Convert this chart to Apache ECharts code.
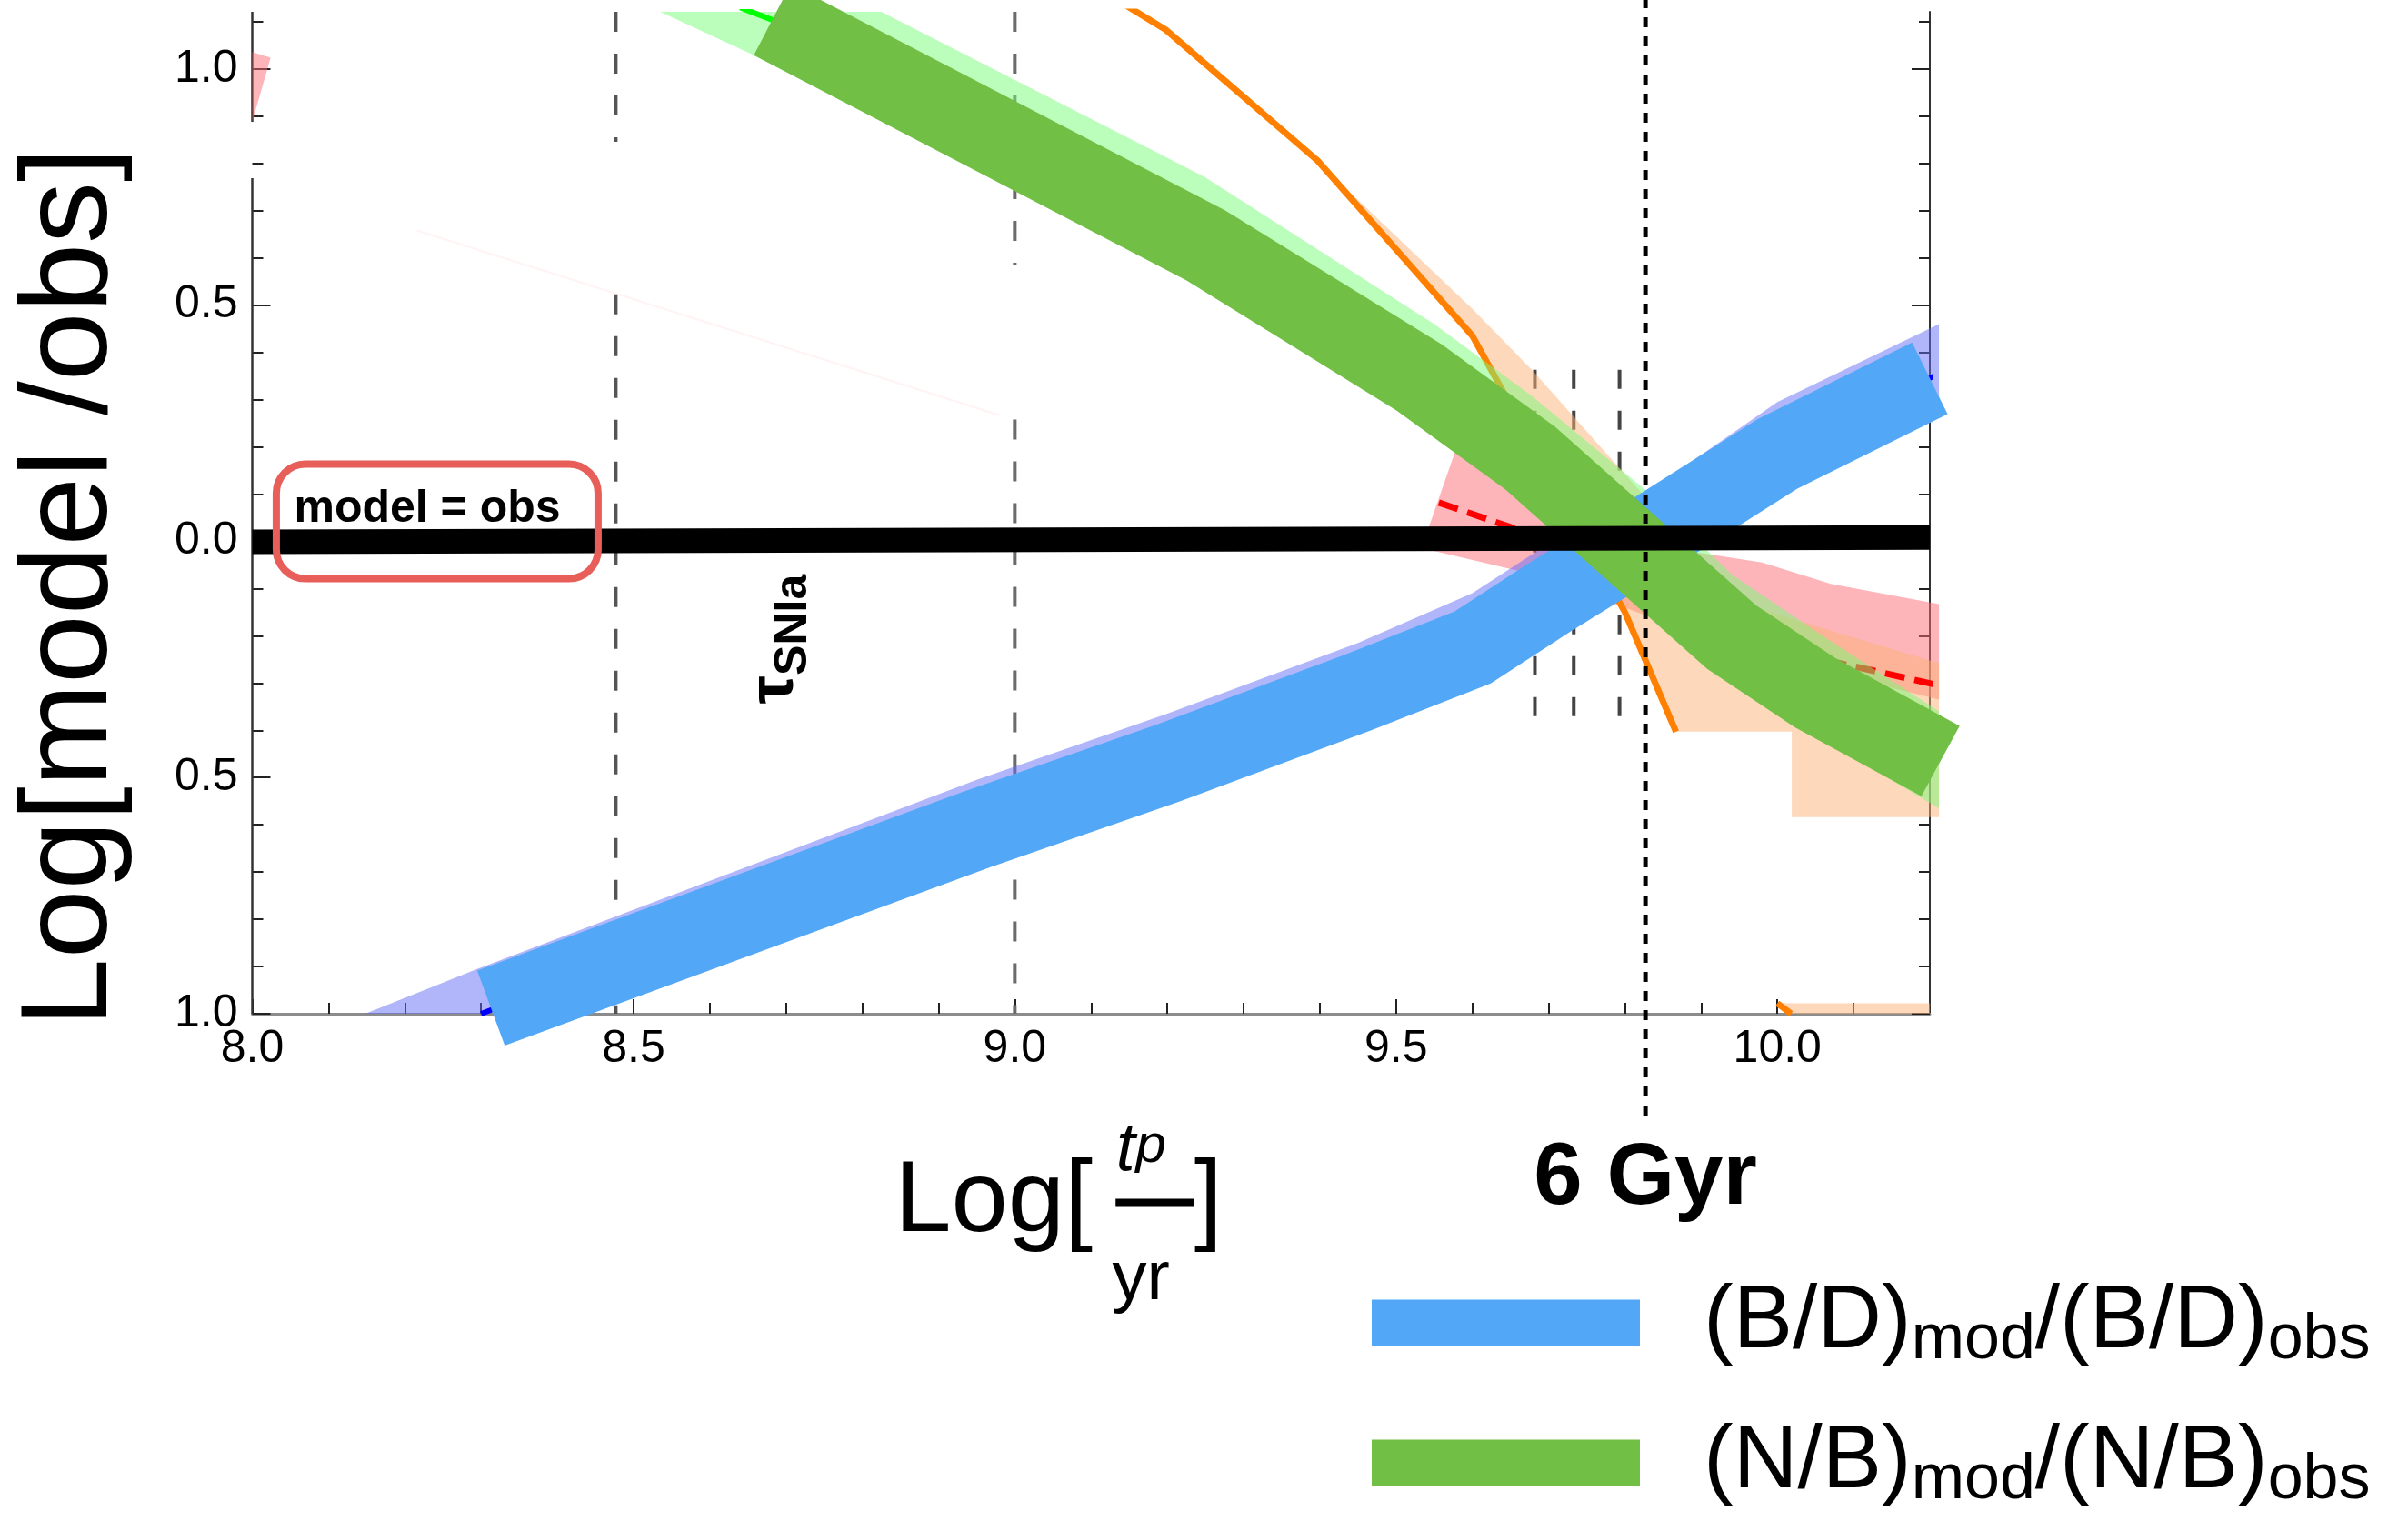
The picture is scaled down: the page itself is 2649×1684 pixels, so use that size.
<!DOCTYPE html>
<html><head><meta charset="utf-8">
<script src="https://cdn.jsdelivr.net/npm/echarts@6/dist/echarts.min.js"></script>
<style>html,body{margin:0;padding:0;background:#fff}#c{width:2649px;height:1684px}</style>
</head><body><div id="c"></div>
<script>
// ---------- axes / ticks ----------
const X_MIN = 8.0, X_MAX = 10.2, Y_MIN = -1.0, Y_MAX = 1.121;
const xMajorTicks = [8.0, 8.5, 9.0, 9.5, 10.0];
const xTickLabels = ['8.0', '8.5', '9.0', '9.5', '10.0'];
const xMinorTicks = [8.1, 8.2, 8.3, 8.4, 8.6, 8.7, 8.8, 8.9, 9.1, 9.2, 9.3, 9.4, 9.6, 9.7, 9.8, 9.9, 10.1];
const yMajorTicks = [-1.0, -0.5, 0.0, 0.5, 1.0];
const yTickLabels = ['1.0', '0.5', '0.0', '0.5', '1.0'];
const yMinorTicks = [-0.9, -0.8, -0.7, -0.6, -0.4, -0.3, -0.2, -0.1, 0.1, 0.2, 0.3, 0.4, 0.6, 0.7, 0.8, 0.9, 1.1];
// left frame line is drawn in two pieces (the reference has a gap in it)
const leftFrameSegs = [[1.121, 0.888], [0.769, -1.0]];

// ---------- thick model bands ----------
const blueX = [8.313, 8.95, 9.2, 9.45, 9.6, 9.7, 9.8, 10.0, 10.2];
const blueY = [-0.988, -0.61, -0.47, -0.32, -0.225, -0.12, -0.02, 0.185, 0.345];
const greenX = [8.682, 9.25, 9.53, 9.676, 9.94, 10.05, 10.214];
const greenY = [1.104, 0.627, 0.347, 0.176, -0.203, -0.321, -0.465];

// ---------- thin model lines ----------
const thinBlueX = [8.30, 8.95, 9.2, 9.45, 9.6, 9.7, 9.8, 10.0, 10.212];
const thinBlueY = [-1.0, -0.61, -0.47, -0.32, -0.225, -0.12, -0.02, 0.185, 0.355];
const thinGreenX = [8.64, 8.682, 9.25, 9.53, 9.676, 9.94, 10.05, 10.2];
const thinGreenY = [1.13, 1.104, 0.627, 0.347, 0.176, -0.203, -0.321, -0.455];
const orangeX = [9.12, 9.198, 9.397, 9.60, 9.80, 9.867];
const orangeY = [1.16, 1.083, 0.806, 0.435, -0.15, -0.403];
const orange2X = [10.0, 10.018];
const orange2Y = [-0.978, -1.0];
const redX = [9.556, 9.65, 9.75, 9.85, 9.99, 10.212];
const redY = [0.082, 0.03, -0.04, -0.12, -0.225, -0.305];
const faintX = [8.216, 8.98];
const faintY = [0.658, 0.267];

// ---------- shaded ranges (upper edge, lower edge) ----------
const pinkUpX = [9.543, 9.578, 9.65, 9.80, 9.88, 9.98, 10.07, 10.212];
const pinkUpY = [0.03, 0.193, 0.11, 0.02, -0.02, -0.045, -0.09, -0.133];
const pinkLoX = [9.543, 9.548, 9.68, 9.85, 10.0, 10.212];
const pinkLoY = [0.03, -0.02, -0.07, -0.17, -0.25, -0.335];
const pinkWedgeUpX = [8.0, 8.024];
const pinkWedgeUpY = [1.036, 1.024];
const pinkWedgeLoX = [8.0, 8.024];
const pinkWedgeLoY = [0.888, 1.024];
const peachUpX = [9.39, 9.60, 9.68, 9.79, 9.89, 9.97, 10.212];
const peachUpY = [0.815, 0.492, 0.36, 0.16, -0.02, -0.14, -0.258];
const peachLoX = [9.39, 9.397, 9.60, 9.80, 9.867, 10.019, 10.019, 10.212];
const peachLoY = [0.815, 0.806, 0.435, -0.15, -0.403, -0.403, -0.584, -0.584];
const peach2UpX = [10.0, 10.2];
const peach2UpY = [-0.978, -0.978];
const peach2LoX = [10.018, 10.2];
const peach2LoY = [-1.0, -1.0];
const lavUpX = [8.148, 8.295, 8.95, 9.2, 9.45, 9.6, 9.7, 9.826, 10.0, 10.212];
const lavUpY = [-1.0, -0.905, -0.505, -0.365, -0.215, -0.11, -0.005, 0.10, 0.295, 0.46];
const lavLoX = [8.148, 8.30, 8.95, 9.2, 9.45, 9.6, 9.8, 10.0, 10.212];
const lavLoY = [-1.0, -1.0, -0.64, -0.50, -0.35, -0.26, -0.06, 0.14, 0.28];
const lgUpX = [8.535, 8.825, 9.183, 9.25, 9.55, 9.676, 9.826, 9.94, 10.05, 10.212];
const lgUpY = [1.121, 1.121, 0.826, 0.77, 0.46, 0.31, 0.11, -0.07, -0.19, -0.36];
const lgLoX = [8.535, 8.658, 9.25, 9.53, 9.676, 9.94, 10.05, 10.212];
const lgLoY = [1.121, 1.029, 0.55, 0.27, 0.09, -0.30, -0.41, -0.565];

// ---------- reference lines ----------
const zeroX = [8.0, 10.2];
const zeroY = [-0.001, 0.008];
const sixGyrX = 9.827;
const sixGyrY = [1.15, -1.235];
const dashLong1X = 8.477;
const dashLong1Segs = [[1.121, 0.846], [0.523, -1.0]];
const dashLong2X = 9.0;
const dashLong2Segs = [[1.121, 0.585], [0.258, -1.0]];
const dashShortX = [9.682, 9.733, 9.793];
const dashShortY = [0.363, -0.383];

// ---------- annotations ----------
const modelObsBoxAnchor = [8.2425, 0.0423];
const modelObsTextAnchor = [8.2295, 0.0683];
const tauAnchor = [8.686, -0.207];
const gyrAnchor = [9.827, -1.352];
const legendNames = ['(B/D)mod/(B/D)obs', '(N/B)mod/(N/B)obs'];
const legendRich = ['{sp| }{a|(B/D)}{s|mod}{a|/(B/D)}{s|obs}', '{sp| }{a|(N/B)}{s|mod}{a|/(N/B)}{s|obs}'];

// ---------- helpers ----------
function pickLabel(vals, labs, v) {
  for (let i = 0; i < vals.length; i++) if (Math.abs(vals[i] - v) < 1e-9) return labs[i];
  return '';
}
function pairs(xs, ys) { return xs.map((x, i) => [x, ys[i]]); }
function lineS(name, xs, ys, style, z, clip) {
  return { type: 'line', name: name, data: pairs(xs, ys), symbol: 'none', showSymbol: false,
    lineStyle: style, itemStyle: { color: style.color }, z: z, clip: clip, silent: true,
    emphasis: { disabled: true }, animation: false };
}
function bandS(name, upX, upY, loX, loY, color, z) {
  return { type: 'custom', name: name, z: z, clip: false, silent: true, animation: false,
    data: [[upX[0], upY[0]]],
    renderItem: function (params, api) {
      const pts = [];
      for (let i = 0; i < upX.length; i++) pts.push(api.coord([upX[i], upY[i]]));
      for (let i = loX.length - 1; i >= 0; i--) pts.push(api.coord([loX[i], loY[i]]));
      return { type: 'polygon', shape: { points: pts }, style: { fill: color } };
    } };
}
function vSeg(name, x, y0, y1, style, z, clip) {
  return lineS(name, [x, x], [y0, y1], style, z, clip);
}

const dashStyleLong = { color: '#555', width: 3.5, type: [22, 24] };
const dashStyleShort = { color: '#444', width: 4, type: [21, 24] };

const series = [];
leftFrameSegs.forEach((s, i) => series.push(vSeg('frame_' + i, X_MIN, s[0], s[1], { color: '#333', width: 2.5 }, 0, false)));
dashLong1Segs.forEach((s, i) => series.push(vSeg('v85_' + i, dashLong1X, s[0], s[1], dashStyleLong, 1, true)));
dashLong2Segs.forEach((s, i) => series.push(vSeg('v90_' + i, dashLong2X, s[0], s[1], { color: '#6a6a6a', width: 4, type: [22, 24] }, 1, true)));
dashShortX.forEach((x, i) => series.push(vSeg('vs_' + i, x, dashShortY[0], dashShortY[1], dashStyleShort, 1, true)));
series.push(lineS('faint', faintX, faintY, { color: 'rgba(255,120,120,0.09)', width: 2 }, 1, true));
series.push(bandS('pinkWedge', pinkWedgeUpX, pinkWedgeUpY, pinkWedgeLoX, pinkWedgeLoY, 'rgba(251,107,117,0.5)', 2));
series.push(bandS('pink', pinkUpX, pinkUpY, pinkLoX, pinkLoY, 'rgba(251,107,117,0.5)', 2));
series.push(bandS('peach', peachUpX, peachUpY, peachLoX, peachLoY, 'rgba(251,177,117,0.5)', 3));
series.push(bandS('peach2', peach2UpX, peach2UpY, peach2LoX, peach2LoY, 'rgba(251,177,117,0.5)', 3));
series.push(bandS('lavender', lavUpX, lavUpY, lavLoX, lavLoY, 'rgba(100,110,248,0.5)', 4));
series.push(lineS('red', redX, redY, { color: '#ff0000', width: 7, type: [22, 11] }, 5, false));
series.push(lineS('orange', orangeX, orangeY, { color: '#ff8000', width: 7 }, 6, true));
series.push(lineS('orange2', orange2X, orange2Y, { color: '#ff8000', width: 7 }, 6, true));
series.push(bandS('lightgreen', lgUpX, lgUpY, lgLoX, lgLoY, 'rgba(119,251,119,0.5)', 7));
series.push(lineS('thinBlue', thinBlueX, thinBlueY, { color: '#0000ff', width: 6 }, 8, true));
series.push(lineS('thinGreen', thinGreenX, thinGreenY, { color: '#00ff00', width: 6 }, 8, true));
series.push(lineS(legendNames[0], blueX, blueY, { color: '#52a7f7', width: 88, cap: 'butt', join: 'miter' }, 9, false));
series.push(lineS(legendNames[1], greenX, greenY, { color: '#71bf44', width: 88, cap: 'butt', join: 'miter' }, 10, false));
series.push(lineS('model=obs', zeroX, zeroY, { color: '#000', width: 27, cap: 'butt' }, 11, false));
series.push(vSeg('6Gyr', sixGyrX, sixGyrY[0], sixGyrY[1], { color: '#000', width: 5, type: [11, 10] }, 12, false));

function anchor(name, pos, label) {
  return { type: 'scatter', name: name, data: [pos], symbolSize: 1,
    itemStyle: { color: 'rgba(0,0,0,0)', opacity: 1 },
    z: 20, silent: true, clip: false, animation: false,
    label: Object.assign({ show: true, position: 'inside', opacity: 1 }, label) };
}
series.push(anchor('modelObsBox', modelObsBoxAnchor, {
  formatter: ' ', width: 354, height: 126, padding: 0, fontSize: 10,
  borderColor: '#e85f5a', borderWidth: 8, borderRadius: 32 }));
series.push(anchor('modelObsLabel', modelObsTextAnchor, {
  formatter: 'model = obs', fontSize: 50, fontWeight: 'bold', color: '#000', lineHeight: 50 }));
series.push(anchor('tauLabel', tauAnchor, {
  rotate: 90, formatter: '{tau|τ}{sub|SNIa}',
  rich: { tau: { fontSize: 70, fontWeight: 'bold', color: '#000', lineHeight: 90 },
          sub: { fontSize: 50, fontWeight: 'bold', color: '#000', lineHeight: 50, verticalAlign: 'bottom' } } }));
series.push(anchor('gyrLabel', gyrAnchor, { formatter: '6 Gyr', fontSize: 96, fontWeight: 'bold', color: '#000' }));

const tickLine = { color: '#222', width: 2 };
const baseX = { type: 'value', min: X_MIN, max: X_MAX, position: 'bottom', splitLine: { show: false } };
const baseY = { type: 'value', min: Y_MIN, max: Y_MAX, splitLine: { show: false } };

const option = {
  animation: false,
  backgroundColor: '#fff',
  textStyle: { fontFamily: 'Liberation Sans' },
  grid: { left: 277.5, right: 526, top: 13, bottom: 569, containLabel: false, outerBoundsMode: 'none' },
  legend: {
    data: legendNames, orient: 'vertical', left: 1509, top: 1406, padding: 0,
    itemWidth: 295, itemHeight: 51, itemGap: 50, icon: 'rect', selectedMode: false,
    itemStyle: { borderWidth: 0 },
    formatter: function (n) { return legendRich[legendNames.indexOf(n)]; },
    textStyle: { rich: {
      sp: { width: 65, fontSize: 20 },
      a: { fontSize: 98, lineHeight: 110, color: '#000', fontFamily: 'Liberation Sans' },
      s: { fontSize: 70, lineHeight: 60, color: '#000', verticalAlign: 'bottom', fontFamily: 'Liberation Sans' } } }
  },
  xAxis: [
    Object.assign({}, baseX, {
      axisLine: { show: true, onZero: false, lineStyle: { color: '#8c8c8c', width: 3 } },
      axisTick: { show: true, inside: true, length: 16, customValues: xMajorTicks, lineStyle: tickLine },
      axisLabel: { show: true, customValues: xMajorTicks, formatter: v => pickLabel(xMajorTicks, xTickLabels, v),
                   fontSize: 50, color: '#000', margin: 14 },
      name: '{g1| }{t|t}{p|p}{g2| }\n{L|Log[}{bar| }{R|]}\n{g1| }{yr|yr}{g2| }',
      nameLocation: 'middle', nameGap: 126, nameMoveOverlap: false,
      nameTextStyle: { padding: [0, 56, 0, 0], rich: {
        g1: { width: 228, fontSize: 10, lineHeight: 10 },
        g2: { width: 62, fontSize: 10, lineHeight: 10 },
        t: { width: 22, fontSize: 76, fontStyle: 'italic', lineHeight: 50, color: '#000' },
        p: { width: 34, fontSize: 60, fontStyle: 'italic', lineHeight: 40, verticalAlign: 'bottom', color: '#000' },
        L: { width: 228, align: 'left', fontSize: 112, lineHeight: 64, color: '#000' },
        bar: { width: 86, height: 9, backgroundColor: '#000', fontSize: 4, lineHeight: 9 },
        R: { width: 32, align: 'left', fontSize: 112, lineHeight: 64, color: '#000' },
        yr: { width: 86, align: 'center', fontSize: 76, lineHeight: 106, color: '#000' } } }
    }),
    Object.assign({}, baseX, {
      axisLine: { show: false, onZero: false },
      axisTick: { show: true, inside: true, length: 12, customValues: xMinorTicks, lineStyle: tickLine },
      axisLabel: { show: false }
    })
  ],
  yAxis: [
    Object.assign({}, baseY, { position: 'left',
      axisLine: { show: false, onZero: false },
      axisTick: { show: true, inside: true, length: 20, customValues: yMajorTicks, lineStyle: tickLine },
      axisLabel: { show: true, customValues: yMajorTicks, formatter: v => pickLabel(yMajorTicks, yTickLabels, v),
                   fontSize: 50, color: '#000', margin: 16 },
      name: 'Log[model /obs]', nameLocation: 'middle', nameGap: 130, nameRotate: 90, nameMoveOverlap: false,
      nameTextStyle: { fontSize: 136, color: '#000', padding: [0, 164, 0, 0] }
    }),
    Object.assign({}, baseY, { position: 'left',
      axisLine: { show: false, onZero: false },
      axisTick: { show: true, inside: true, length: 12, customValues: yMinorTicks, lineStyle: tickLine },
      axisLabel: { show: false }
    }),
    Object.assign({}, baseY, { position: 'right',
      axisLine: { show: true, onZero: false, lineStyle: { color: '#333', width: 2 } },
      axisTick: { show: true, inside: true, length: 20, customValues: yMajorTicks, lineStyle: tickLine },
      axisLabel: { show: false }
    }),
    Object.assign({}, baseY, { position: 'right',
      axisLine: { show: false, onZero: false },
      axisTick: { show: true, inside: true, length: 12, customValues: yMinorTicks, lineStyle: tickLine },
      axisLabel: { show: false }
    })
  ],
  series: series
};

const chart = echarts.init(document.getElementById('c'), null, { renderer: 'canvas', width: 2649, height: 1684 });
chart.setOption(option);
</script></body></html>
